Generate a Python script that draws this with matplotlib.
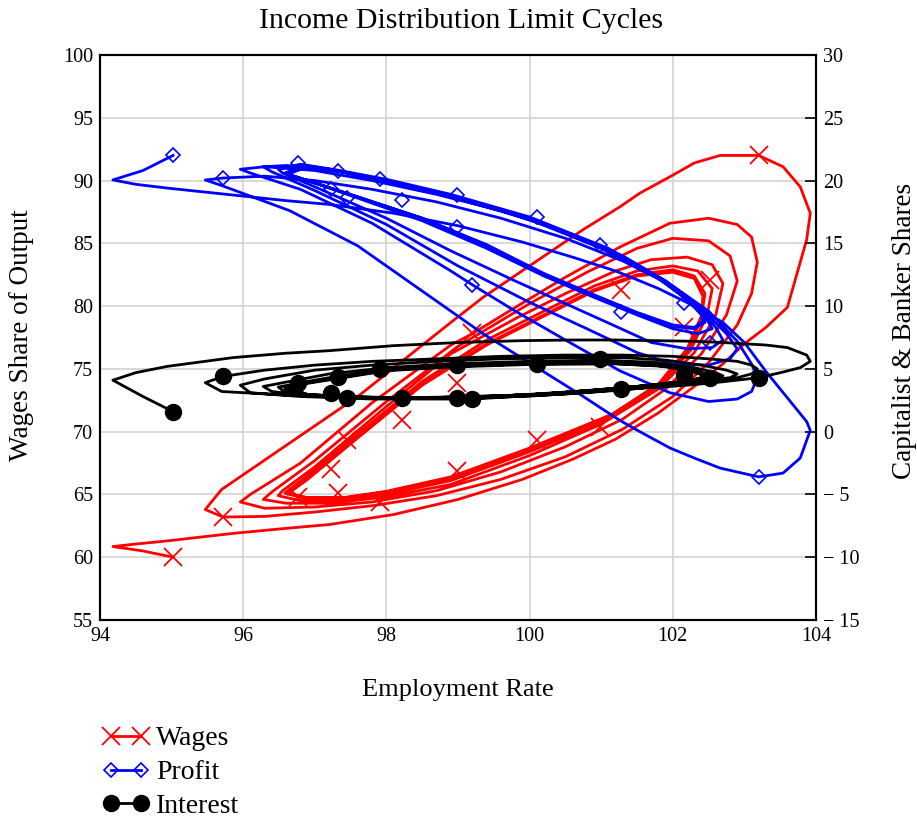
import matplotlib
matplotlib.use("Agg")
import matplotlib.pyplot as plt
from matplotlib.lines import Line2D

plt.rcParams["font.family"] = ["Liberation Serif", "DejaVu Serif"]

# employment rate (shared time path), one row per half cycle
employment = [
    95.02, 94.6, 94.18, 94.5, 94.94, 95.86, 96.6, 97.2, 98.1, 99.0, 99.9, 100.6, 101.2, 101.8, 102.3, 102.7, 103.0, 103.3, 103.6, 103.87, 103.92,
    103.78, 103.54, 103.2, 102.66, 102.3, 101.96, 101.54, 101.26, 100.75, 100.05, 99.35, 98.9, 97.6, 96.65, 95.7, 95.47,
    95.72, 96.3, 97.0, 97.8, 98.7, 99.6, 100.5, 101.3, 102.0, 102.5, 102.9, 103.1, 103.18,
    103.1, 102.9, 102.5, 101.96, 101.26, 100.5, 99.8, 99.2, 98.9, 97.8, 96.8, 96.1, 95.96,
    96.3, 97.0, 97.8, 98.7, 99.6, 100.5, 101.3, 101.9, 102.4, 102.75, 102.9,
    102.8, 102.5, 102.0, 101.5, 100.8, 100.0, 99.0, 98.0, 97.0, 96.4, 96.28,
    96.6, 97.2, 98.0, 98.9, 100.0, 101.0, 101.8, 102.3, 102.6, 102.7,
    102.55, 102.2, 101.7, 101.2, 100.5, 99.8, 98.9, 98.0, 97.0, 96.55, 96.49,
    96.8, 97.3, 98.0, 98.9, 100.0, 101.1, 101.8, 102.25, 102.48, 102.55,
    102.35, 102.0, 101.5, 100.9, 100.2, 99.4, 98.5, 97.6, 96.9, 96.58,
    96.85, 97.4, 98.0, 98.9, 100.0, 101.1, 101.8, 102.2, 102.4, 102.45,
    102.3, 102.0, 101.5, 100.9, 100.2, 99.4, 98.5, 97.6, 96.9, 96.62,
    96.9, 97.4, 98.0, 98.9, 100.0, 101.2, 101.9, 102.25, 102.4, 102.42,
    102.3, 102.0, 101.5, 100.9, 100.2, 99.4, 98.5, 97.6, 96.9, 96.62,
]

# wages share of output (left axis)
wages = [
    60.0, 60.5, 60.85, 61.05, 61.3, 61.9, 62.3, 62.6, 63.4, 64.6, 66.2, 67.8, 69.4, 71.5, 73.6, 75.4, 77.0, 78.3, 79.9, 85.3, 87.4,
    89.5, 91.1, 92.0, 92.0, 91.4, 90.3, 89.0, 87.9, 86.1, 83.4, 80.7, 78.7, 72.8, 69.1, 65.4, 63.8,
    63.2, 63.25, 63.6, 64.1, 64.9, 66.2, 68.0, 70.2, 72.8, 75.5, 78.5, 81.0, 83.5,
    85.5, 86.5, 87.0, 86.6, 84.7, 82.3, 79.9, 77.8, 76.9, 72.3, 67.5, 65.0, 64.4,
    63.9, 64.0, 64.4, 65.3, 66.8, 68.8, 71.0, 73.4, 76.2, 79.3, 82.0,
    84.0, 85.2, 85.4, 84.6, 82.7, 80.2, 76.8, 72.4, 67.7, 65.2, 64.6,
    64.3, 64.3, 64.8, 65.8, 68.1, 70.6, 73.4, 76.3, 79.3, 81.8,
    83.3, 83.9, 83.7, 82.8, 81.0, 79.0, 76.2, 72.0, 67.2, 65.3, 64.9,
    64.5, 64.5, 65.0, 66.1, 68.4, 71.0, 73.6, 76.5, 79.3, 81.4,
    82.8, 83.2, 82.8, 81.6, 79.6, 77.3, 74.0, 69.8, 66.5, 65.1,
    64.7, 64.7, 65.2, 66.3, 68.6, 71.2, 73.8, 76.6, 79.2, 81.0,
    82.4, 82.9, 82.5, 81.3, 79.3, 77.0, 73.8, 69.6, 66.3, 65.1,
    64.75, 64.75, 65.25, 66.4, 68.7, 71.5, 74.1, 76.7, 79.2, 80.8,
    82.2, 82.7, 82.4, 81.2, 79.2, 76.9, 73.7, 69.5, 66.2, 65.05,
]

# profit share (right axis)
profit = [
    22.0, 20.8, 20.05, 19.7, 19.4, 18.85, 18.4, 18.1, 17.4, 16.4, 15.1, 13.9, 12.8, 11.4, 10.0, 8.7, 7.1, 4.8, 2.7, 0.8, 0.1,
    -2.1, -3.3, -3.6, -2.9, -2.1, -1.3, 0.0, 0.9, 2.8, 5.3, 7.8, 9.6, 14.8, 17.6, 19.6, 20.05,
    20.2, 20.35, 20.0, 19.3, 18.3, 17.0, 15.4, 13.6, 11.6, 9.6, 7.2, 5.4, 4.3,
    3.2, 2.6, 2.4, 3.1, 4.85, 7.3, 9.6, 11.7, 12.8, 16.6, 19.3, 20.6, 20.9,
    21.1, 20.8, 20.0, 18.9, 17.6, 15.9, 14.0, 12.0, 9.8, 7.8, 6.6,
    5.8, 5.3, 5.4, 6.3, 8.2, 10.3, 13.2, 16.5, 19.2, 20.7, 21.1,
    21.2, 20.9, 20.0, 18.7, 16.9, 14.6, 12.2, 10.2, 8.3, 7.3,
    6.7, 6.6, 7.1, 8.4, 10.2, 12.0, 14.4, 17.0, 19.5, 20.6, 20.9,
    21.3, 20.85, 20.1, 18.9, 17.1, 14.6, 12.3, 10.3, 8.9, 8.2,
    7.8, 8.2, 9.3, 10.7, 12.4, 14.6, 16.8, 18.6, 20.0, 20.6,
    21.2, 20.7, 20.0, 18.8, 17.0, 14.5, 12.2, 10.5, 9.3, 8.7,
    8.2, 8.4, 9.4, 10.8, 12.5, 14.8, 17.0, 18.7, 20.0, 20.5,
    21.1, 20.65, 19.95, 18.75, 16.95, 14.2, 12.0, 10.5, 9.4, 8.8,
    8.3, 8.5, 9.5, 10.9, 12.6, 14.9, 17.0, 18.7, 20.0, 20.5,
]

# interest share (right axis)
interest = [
    1.6, 2.8, 4.1, 4.7, 5.2, 5.9, 6.25, 6.45, 6.85, 7.1, 7.25, 7.3, 7.3, 7.25, 7.2, 7.1, 7.0, 6.9, 6.7, 6.1, 5.6,
    5.1, 4.75, 4.3, 3.95, 3.75, 3.6, 3.45, 3.35, 3.1, 2.85, 2.7, 2.65, 2.7, 2.9, 3.2, 3.9,
    4.4, 4.9, 5.3, 5.6, 5.8, 6.0, 6.1, 6.1, 6.0, 5.8, 5.6, 5.3, 5.0,
    4.6, 4.3, 4.0, 3.7, 3.3, 3.0, 2.8, 2.6, 2.6, 2.6, 2.8, 3.1, 3.7,
    4.2, 4.9, 5.3, 5.6, 5.8, 5.9, 5.9, 5.7, 5.3, 4.9, 4.6,
    4.3, 4.1, 3.8, 3.55, 3.25, 2.95, 2.75, 2.7, 2.8, 3.2, 3.6,
    3.95, 4.6, 5.1, 5.4, 5.6, 5.7, 5.5, 5.1, 4.7, 4.45,
    4.2, 3.95, 3.7, 3.45, 3.15, 2.9, 2.75, 2.7, 2.85, 3.3, 3.55,
    3.9, 4.4, 4.95, 5.25, 5.45, 5.5, 5.3, 4.95, 4.6, 4.4,
    4.15, 3.9, 3.6, 3.3, 3.0, 2.8, 2.7, 2.75, 2.95, 3.5,
    3.85, 4.35, 4.9, 5.2, 5.4, 5.45, 5.25, 4.9, 4.55, 4.35,
    4.15, 3.9, 3.6, 3.3, 3.0, 2.8, 2.7, 2.75, 2.95, 3.5,
    3.85, 4.3, 4.85, 5.15, 5.35, 5.4, 5.2, 4.85, 4.55, 4.35,
    4.15, 3.9, 3.6, 3.3, 3.0, 2.8, 2.7, 2.75, 2.95, 3.5,
]

# sampled points that carry a marker
mark_employment = [95.02, 103.2, 95.72, 99.2, 96.77, 97.32, 97.45, 97.91, 98.22, 98.99, 98.99, 100.1, 100.98, 101.28, 102.15, 102.52, 97.22]
mark_wages = [60.0, 92.0, 63.2, 77.85, 64.8, 65.1, 69.3, 64.4, 70.9, 66.9, 73.9, 69.3, 70.4, 81.3, 78.3, 82.1, 67.0]
mark_profit = [22.0, -3.6, 20.2, 11.7, 21.4, 20.8, 18.6, 20.1, 18.45, 18.85, 16.3, 17.1, 14.9, 9.5, 10.25, 7.1, 19.3]
mark_interest = [1.6, 4.3, 4.4, 2.6, 3.9, 4.35, 2.7, 5.0, 2.7, 5.3, 2.7, 5.4, 5.8, 3.4, 4.5, 4.3, 3.1]

x_ticks = [94, 96, 98, 100, 102, 104]
left_ticks = [55, 60, 65, 70, 75, 80, 85, 90, 95, 100]
right_ticks = [-15, -10, -5, 0, 5, 10, 15, 20, 25, 30]
right_labels = ["\u2212 15", "\u2212 10", "\u2212 5", "0", "5", "10", "15", "20", "25", "30"]

fig = plt.figure(figsize=(9.17, 8.18), dpi=100)
ax = fig.add_axes([100 / 917, 1 - 620 / 818, 716 / 917, 565 / 818])
ax2 = ax.twinx()

ax.set_xlim(94, 104)
ax.set_ylim(55, 100)
ax2.set_ylim(-15, 30)
ax.set_xticks(x_ticks)
ax.set_yticks(left_ticks)
ax.grid(True, color="#d3d3d3", lw=1.2)
ax.set_axisbelow(True)
ax.tick_params(length=0, labelsize=14.5, pad=5)
ax2.set_yticks(right_ticks)
ax2.set_yticklabels(right_labels)
ax2.tick_params(direction="in", length=8, width=1.2, labelsize=14.5, pad=5)
for a in (ax, ax2):
    for s in a.spines.values():
        s.set_linewidth(1.5)

lw = 2.0
ax.plot(employment, wages, color="red", lw=lw)
ax.plot(mark_employment, mark_wages, ls="none", marker="x", ms=13, mew=1.3, color="red")
ax2.plot(employment, profit, color="blue", lw=lw)
ax2.plot(mark_employment, mark_profit, ls="none", marker="D", ms=7, mew=1.2, mfc="none", color="blue")
ax2.plot(employment, interest, color="black", lw=lw)
ax2.plot(mark_employment, mark_interest, ls="none", marker="o", ms=11.5, color="black")

fig.text(461 / 917, 1 - 21 / 818, "Income Distribution Limit Cycles", ha="center", va="center", fontsize=21.5)
ax.set_xlabel("Employment Rate", fontsize=19)
ax.xaxis.set_label_coords(0.5, -(690 - 620) / 565)
ax.xaxis.label.set_va("center")
ax.set_ylabel("Wages Share of Output", fontsize=19.5)
ax.yaxis.set_label_coords((22 - 100) / 716, (620 - 335) / 565)
ax.yaxis.label.set_va("center")
ax2.set_ylabel("Capitalist & Banker Shares", fontsize=19.5, rotation=90)
ax2.yaxis.set_label_coords((904 - 100) / 716, (620 - 331) / 565)
ax2.yaxis.label.set_va("center")

handles = [
    Line2D([], [], color="red", lw=lw, marker="x", ms=13, mew=1.3),
    Line2D([], [], color="blue", lw=lw, marker="D", ms=7, mew=1.2, mfc="none"),
    Line2D([], [], color="black", lw=lw, marker="o", ms=11.5),
]
fig.legend(handles, ["Wages", "Profit", "Interest"], loc="upper left",
           bbox_to_anchor=(103 / 917, 1 - 726 / 818), frameon=False, numpoints=2,
           handlelength=1.65, handletextpad=0.25, labelspacing=0.3, fontsize=20,
           borderaxespad=0, borderpad=0)

fig.savefig("out.png", dpi=100)
